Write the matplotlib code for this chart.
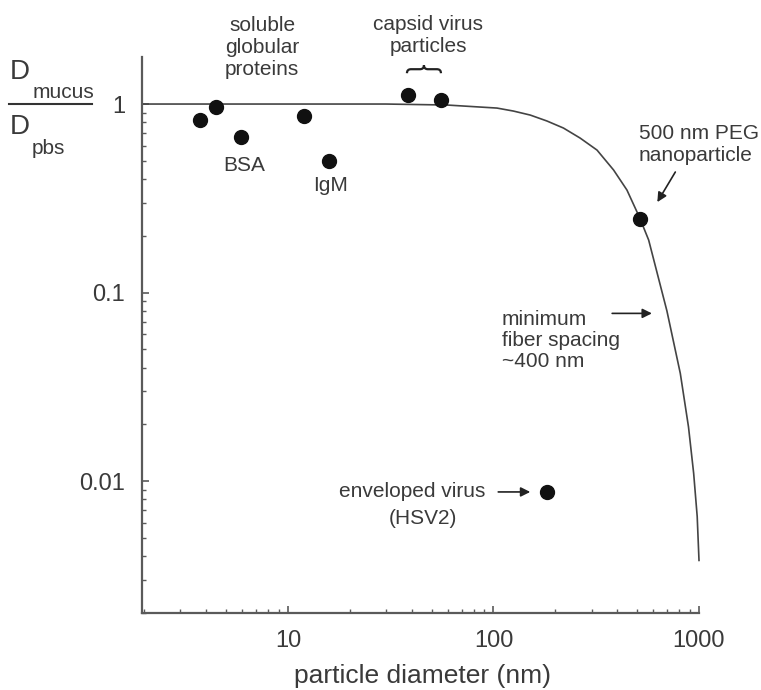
import matplotlib
matplotlib.use("Agg")
import matplotlib.pyplot as plt
from matplotlib.lines import Line2D
from matplotlib.path import Path
from matplotlib.patches import PathPatch
import matplotlib.transforms as mtransforms
from matplotlib.ticker import LogLocator, FixedLocator, FixedFormatter, NullFormatter

plt.rcParams['font.family'] = ['Liberation Sans', 'DejaVu Sans']

# ---- data ----
protein_x = [3.74, 4.47, 5.93, 11.97, 15.9]
protein_y = [0.822, 0.968, 0.668, 0.861, 0.50]
capsid_x = [38.4, 55.3]
capsid_y = [1.116, 1.05]
peg_x = [514]
peg_y = [0.245]
hsv_x = [182]
hsv_y = [0.00878]

curve_x = [1.95, 10, 30, 59.4, 104, 125, 151, 182, 219, 264, 319, 384, 446, 514,
           569, 698, 811, 889, 942, 980, 1000]
curve_y = [1.0, 1.0, 1.0, 0.988, 0.952, 0.918, 0.874, 0.813, 0.746, 0.66, 0.57,
           0.447, 0.35, 0.25, 0.19, 0.080, 0.0373, 0.0194, 0.011, 0.0065, 0.0038]

xticks = [10, 100, 1000]
xtick_labels = ['10', '100', '1000']
yticks = [0.01, 0.1, 1]
ytick_labels = ['0.01', '0.1', '1']

TXT = '#3a3a3a'
AX = '#5a5a5a'
W, H = 761, 690

fig = plt.figure(figsize=(W / 100, H / 100), dpi=100)
ax = fig.add_axes([142 / W, 1 - 613 / H, (699 - 142) / W, (613 - 57) / H])
ax.set_xscale('log')
ax.set_yscale('log')
ax.set_xlim(1.95, 1000)
ax.set_ylim(0.002, 1.776)

ax.plot(curve_x, curve_y, color='#444444', lw=1.2, zorder=2, clip_on=False)
ms = 10
for xs, ys in [(protein_x, protein_y), (capsid_x, capsid_y), (peg_x, peg_y), (hsv_x, hsv_y)]:
    ax.plot(xs, ys, 'o', color='#111111', ms=ms, zorder=3, clip_on=False)

for s in ['top', 'right']:
    ax.spines[s].set_visible(False)
for s in ['left', 'bottom']:
    ax.spines[s].set_color(AX)
    ax.spines[s].set_linewidth(1.6)

ax.xaxis.set_major_locator(FixedLocator(xticks))
ax.xaxis.set_major_formatter(FixedFormatter(xtick_labels))
ax.yaxis.set_major_locator(FixedLocator(yticks))
ax.yaxis.set_major_formatter(FixedFormatter(ytick_labels))
ax.xaxis.set_minor_locator(LogLocator(base=10, subs=range(2, 10), numticks=20))
ax.yaxis.set_minor_locator(LogLocator(base=10, subs=range(2, 10), numticks=20))
ax.xaxis.set_minor_formatter(NullFormatter())
ax.yaxis.set_minor_formatter(NullFormatter())
ax.tick_params(which='major', direction='in', length=5, width=1.2, color=AX,
               labelsize=17, labelcolor=TXT, pad=12)
ax.tick_params(which='minor', direction='in', length=3, width=1.0, color=AX)

ts = 15
ax.text(7.5, 2.0, 'soluble\nglobular\nproteins', ha='center', va='center',
        fontsize=ts, color=TXT, linespacing=1.2, clip_on=False)
ax.text(6.1, 0.475, 'BSA', ha='center', va='center', fontsize=ts, color=TXT)
ax.text(16.1, 0.372, 'IgM', ha='center', va='center', fontsize=ts, color=TXT)
ax.text(48.2, 2.32, 'capsid virus\nparticles', ha='center', va='center',
        fontsize=ts, color=TXT, linespacing=1.2, clip_on=False)

# curly brace over the capsid points (shape in inches, anchored at a data point)
bw, bh = 0.17, 0.04
verts = [(-bw, -bh), (-bw, 0), (-bw + 0.04, 0), (-0.04, 0), (0, 0), (0, bh),
         (0, 0), (0.04, 0), (bw - 0.04, 0), (bw, 0), (bw, -bh)]
codes = [Path.MOVETO, Path.CURVE3, Path.CURVE3, Path.LINETO, Path.CURVE3, Path.CURVE3,
         Path.CURVE3, Path.CURVE3, Path.LINETO, Path.CURVE3, Path.CURVE3]
brace_tr = fig.dpi_scale_trans + mtransforms.ScaledTranslation(45.9, 1.53, ax.transData)
ax.add_artist(PathPatch(Path(verts, codes), fill=False, edgecolor='#222222', lw=1.6,
                        transform=brace_tr, clip_on=False))

ax.text(508, 0.61, '500 nm PEG\nnanoparticle', ha='left', va='center',
        fontsize=ts, color=TXT, linespacing=1.2)
ax.annotate('', xy=(627, 0.302), xytext=(767, 0.436),
            arrowprops=dict(arrowstyle='-|>', color='#222222', lw=1.2,
                            mutation_scale=14, shrinkA=0, shrinkB=0))
ax.text(110, 0.0556, 'minimum\nfiber spacing\n~400 nm', ha='left', va='center',
        fontsize=ts, color=TXT, linespacing=1.15)
ax.annotate('', xy=(590, 0.0776), xytext=(378, 0.0776),
            arrowprops=dict(arrowstyle='-|>', color='#222222', lw=1.2,
                            mutation_scale=14, shrinkA=0, shrinkB=0))
ax.text(91.2, 0.00877, 'enveloped virus', ha='right', va='center',
        fontsize=ts, color=TXT)
ax.text(45.5, 0.00637, '(HSV2)', ha='center', va='center', fontsize=ts, color=TXT)
ax.annotate('', xy=(151, 0.00877), xytext=(105.5, 0.00877),
            arrowprops=dict(arrowstyle='-|>', color='#222222', lw=1.2,
                            mutation_scale=14, shrinkA=0, shrinkB=0))

# x label
fig.text(423 / W, 1 - 683 / H, 'particle diameter (nm)', ha='center', va='baseline',
         fontsize=19, color=TXT)

# y label as fraction
def fx(px):
    return px / W

def fy(py):
    return 1 - py / H

fig.text(fx(20), fy(72), 'D', ha='center', va='center', fontsize=20, color=TXT)
fig.text(fx(63), fy(93), 'mucus', ha='center', va='center', fontsize=15, color=TXT)
fig.add_artist(Line2D([fx(9), fx(92)], [fy(104), fy(104)], color='#333333', lw=1.5,
                      transform=fig.transFigure))
fig.text(fx(20), fy(127), 'D', ha='center', va='center', fontsize=20, color=TXT)
fig.text(fx(48), fy(148), 'pbs', ha='center', va='center', fontsize=15, color=TXT)

fig.savefig('out.png', dpi=100)
